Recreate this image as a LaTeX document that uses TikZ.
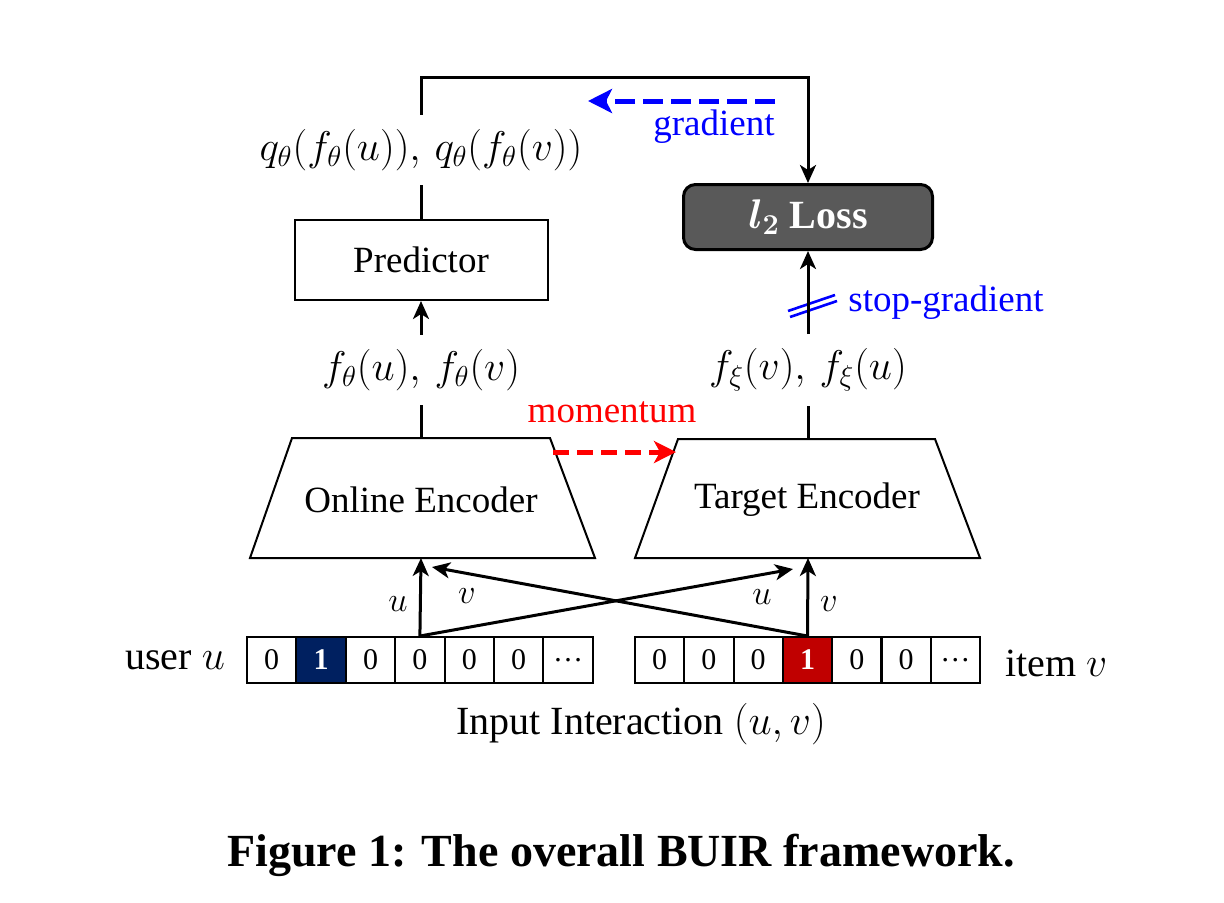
\documentclass[tikz,border=0pt]{standalone}
\usepackage{bm}
\usepackage{fontspec}
\setmainfont{Liberation Serif}
\usetikzlibrary{arrows.meta}

\definecolor{lossgray}{HTML}{595959}
\definecolor{userblue}{HTML}{002060}
\definecolor{itemred}{HTML}{C00000}
\definecolor{gradblue}{HTML}{0000FF}

\tikzset{
	flow/.style={line width=1.5pt},
	arr/.style={flow,-{Stealth[inset=2.5pt,length=9pt,width=8pt]}},
	block/.style={draw,line width=1pt,minimum width=126.5pt,minimum height=40pt,font=\fontsize{18.5}{22}\selectfont},
	enc/.style={draw,line width=1pt},
	lab/.style={inner sep=7pt,font=\fontsize{20}{24}\selectfont},
	cell/.style={draw,line width=1pt,minimum width=24.7pt,minimum height=23pt,inner sep=0pt,font=\fontsize{15}{18}\selectfont},
	small/.style={font=\fontsize{16}{19}\selectfont}
}

\begin{document}
\begin{tikzpicture}[x=0.5pt,y=-0.5pt]
	\useasboundingbox (0,0) rectangle (1224,902);

	% online side
	\node[block] (pred) at (421,260) {Predictor};
	\node[lab] (qlab) at (421,150) {$q_\theta(f_\theta(u)),\, q_\theta(f_\theta(v))$};
	\node[lab] (flab) at (421,370) {$f_\theta(u),\, f_\theta(v)$};
	\draw[enc] (292,438) -- (550,438) -- (595,558) -- (250,558) -- cycle;
	\node[font=\fontsize{18.5}{22}\selectfont] (online) at (421,500) {Online Encoder};

	% target side
	\node[block,draw=black,fill=lossgray,text=white,rounded corners=6pt,line width=1.5pt,minimum height=32.5pt,minimum width=124.5pt,font=\fontsize{20}{24}\selectfont\bfseries] (loss) at (808,217) {$\bm{l_2}$ Loss};
	\node[lab] (xlab) at (808,370) {$f_\xi(v),\, f_\xi(u)$};
	\draw[enc] (678,439) -- (935,439) -- (980,558) -- (635,558) -- cycle;
	\node[font=\fontsize{18.5}{22}\selectfont] (target) at (807,500) {Target Encoder};

	\coordinate (onTop) at (421,438);
	\coordinate (tgTop) at (808,439);
	\coordinate (onBot) at (421,558);
	\coordinate (tgBot) at (808,558);
	\coordinate (onIn) at (432,567);
	\coordinate (tgIn) at (793,569);
	\coordinate (topL) at (421,77);
	\coordinate (topR) at (808,77);

	% stop-gradient mark
	\draw[gradblue,line width=1.3pt] (788,311) -- (835,295);
	\draw[gradblue,line width=1.3pt] (790,317) -- (837,301);
	\node[gradblue,font=\fontsize{18.5}{22}\selectfont] (stopg) at (946,303) {stop-gradient};

	% connectors
	\draw[flow] (onTop) -- (flab.south);
	\draw[arr] (flab.north) -- (pred.south);
	\draw[flow] (pred.north) -- (qlab.south);
	\draw[arr] (qlab.north) -- (topL) -- (topR) -- (loss.north);
	\draw[flow] (tgTop) -- (xlab.south);
	\draw[arr] (xlab.north) -- (loss.south);

	% gradient
	\coordinate (gradA) at (775,101);
	\coordinate (gradB) at (588,101);
	\draw[gradblue,line width=2.5pt,dash pattern=on 10pt off 4pt,-{Stealth[length=12pt,width=12pt,inset=3pt]}] (gradA) -- (gradB);
	\node[gradblue,font=\fontsize{18.5}{22}\selectfont] (gradt) at (714,127) {gradient};

	% momentum
	\coordinate (momA) at (553,452);
	\coordinate (momB) at (676,452);
	\draw[red,line width=2.5pt,dash pattern=on 8pt off 4pt,-{Stealth[length=11pt,width=11pt,inset=3pt]}] (momA) -- (momB);
	\node[red,font=\fontsize{18.5}{22}\selectfont] (momt) at (612,412) {momentum};

	% one-hot vectors
	\foreach \i/\t in {0/0,1/1,2/0,3/0,4/0,5/0,6/\dots}
		\node[cell] (u\i) at (271.7+49.4*\i,660) {\t};
	\node[cell,fill=userblue,text=white,font=\fontsize{15}{18}\selectfont\bfseries] at (u1) {1};
	\foreach \i/\t in {0/0,1/0,2/0,3/1,4/0,5/0,6/\dots}
		\node[cell] (v\i) at (659.6+49.3*\i,660) {\t};
	\node[cell,fill=itemred,text=white,font=\fontsize{15}{18}\selectfont\bfseries] at (v3) {1};

	\node[anchor=east,font=\fontsize{20}{24}\selectfont] (user) at (232,660) {user $u$};
	\node[anchor=west,font=\fontsize{20}{24}\selectfont] (item) at (998,663) {item $v$};
	\node[font=\fontsize{20}{24}\selectfont] (input) at (641,724) {Input Interaction $(u,v)$};

	% input arrows
	\draw[arr] (u3.north) -- (onBot);
	\draw[arr] (u3.north) -- (tgIn);
	\draw[arr] (v3.north) -- (tgBot);
	\draw[arr] (v3.north) -- (onIn);
	\node[small] (lu1) at (398,604) {$u$};
	\node[small] (lv1) at (467,596) {$v$};
	\node[small] (lu2) at (762,597) {$u$};
	\node[small] (lv2) at (829,604) {$v$};

	% caption
	\node[font=\fontsize{23}{28}\selectfont\bfseries] (cap) at (621,855) {Figure 1: The overall BUIR framework.};
\end{tikzpicture}
\end{document}
